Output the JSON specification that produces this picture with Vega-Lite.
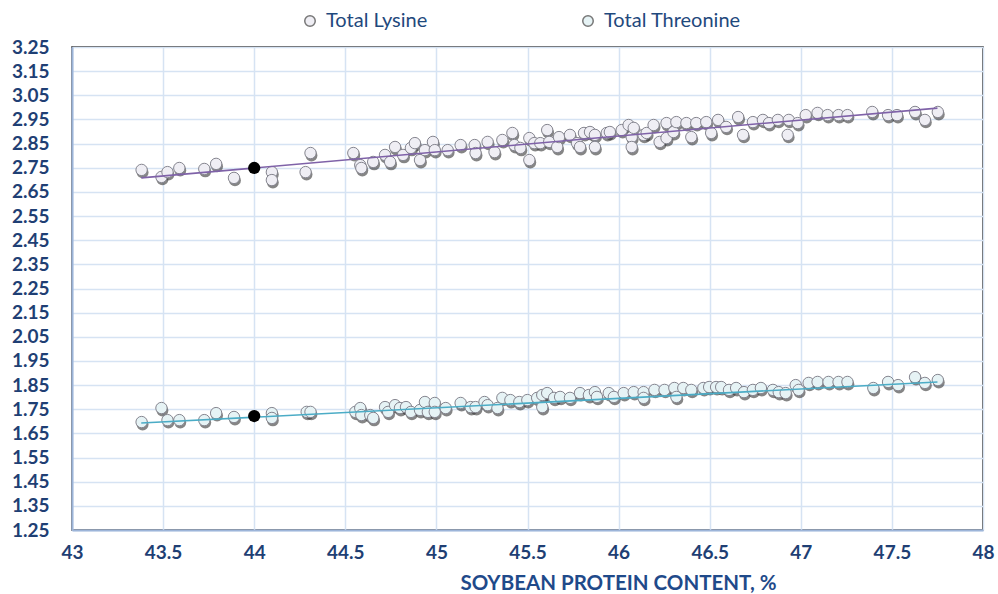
{
  "$schema": "https://vega.github.io/schema/vega-lite/v6.json",
  "width": 911,
  "height": 483,
  "autosize": {"type": "none"},
  "padding": {"left": 72, "top": 47, "right": 15, "bottom": 64},
  "background": "white",
  "config": {
    "view": {"stroke": "#222222", "strokeWidth": 1.5},
    "axis": {
      "labelFont": "Lato", "labelFontWeight": "bold", "labelFontSize": 19, "labelColor": "#1F3F74",
      "gridColor": "#D6E3F3", "gridWidth": 1.5, "domainColor": "#9DB5D9", "domainWidth": 2, "ticks": false,
      "titleFont": "Lato", "titleFontWeight": "bold", "titleFontSize": 20.5, "titleColor": "#1F4A8A"
    },
    "legend": {"labelFont": "Lato", "labelFontSize": 20, "labelColor": "#1F497D"}
  },
  "datasets": {
    "points": [
      {"series":"Total Lysine","protein":43.382,"value":2.741},
      {"series":"Total Lysine","protein":43.491,"value":2.712},
      {"series":"Total Lysine","protein":43.524,"value":2.732},
      {"series":"Total Lysine","protein":43.589,"value":2.749},
      {"series":"Total Lysine","protein":43.726,"value":2.745},
      {"series":"Total Lysine","protein":43.791,"value":2.766},
      {"series":"Total Lysine","protein":43.889,"value":2.708},
      {"series":"Total Lysine","protein":44.097,"value":2.732},
      {"series":"Total Lysine","protein":44.097,"value":2.699},
      {"series":"Total Lysine","protein":44.282,"value":2.732},
      {"series":"Total Lysine","protein":44.309,"value":2.811},
      {"series":"Total Lysine","protein":44.544,"value":2.811},
      {"series":"Total Lysine","protein":44.582,"value":2.761},
      {"series":"Total Lysine","protein":44.588,"value":2.749},
      {"series":"Total Lysine","protein":44.653,"value":2.774},
      {"series":"Total Lysine","protein":44.718,"value":2.803},
      {"series":"Total Lysine","protein":44.746,"value":2.774},
      {"series":"Total Lysine","protein":44.773,"value":2.836},
      {"series":"Total Lysine","protein":44.817,"value":2.803},
      {"series":"Total Lysine","protein":44.860,"value":2.832},
      {"series":"Total Lysine","protein":44.882,"value":2.852},
      {"series":"Total Lysine","protein":44.910,"value":2.782},
      {"series":"Total Lysine","protein":44.937,"value":2.823},
      {"series":"Total Lysine","protein":44.981,"value":2.857},
      {"series":"Total Lysine","protein":44.991,"value":2.823},
      {"series":"Total Lysine","protein":45.062,"value":2.823},
      {"series":"Total Lysine","protein":45.133,"value":2.844},
      {"series":"Total Lysine","protein":45.210,"value":2.844},
      {"series":"Total Lysine","protein":45.215,"value":2.811},
      {"series":"Total Lysine","protein":45.281,"value":2.857},
      {"series":"Total Lysine","protein":45.319,"value":2.815},
      {"series":"Total Lysine","protein":45.362,"value":2.865},
      {"series":"Total Lysine","protein":45.417,"value":2.894},
      {"series":"Total Lysine","protein":45.428,"value":2.844},
      {"series":"Total Lysine","protein":45.461,"value":2.832},
      {"series":"Total Lysine","protein":45.510,"value":2.873},
      {"series":"Total Lysine","protein":45.510,"value":2.782},
      {"series":"Total Lysine","protein":45.537,"value":2.852},
      {"series":"Total Lysine","protein":45.570,"value":2.852},
      {"series":"Total Lysine","protein":45.608,"value":2.906},
      {"series":"Total Lysine","protein":45.619,"value":2.857},
      {"series":"Total Lysine","protein":45.663,"value":2.836},
      {"series":"Total Lysine","protein":45.673,"value":2.877},
      {"series":"Total Lysine","protein":45.733,"value":2.886},
      {"series":"Total Lysine","protein":45.772,"value":2.852},
      {"series":"Total Lysine","protein":45.788,"value":2.836},
      {"series":"Total Lysine","protein":45.810,"value":2.894},
      {"series":"Total Lysine","protein":45.843,"value":2.898},
      {"series":"Total Lysine","protein":45.870,"value":2.886},
      {"series":"Total Lysine","protein":45.870,"value":2.836},
      {"series":"Total Lysine","protein":45.935,"value":2.894},
      {"series":"Total Lysine","protein":45.952,"value":2.898},
      {"series":"Total Lysine","protein":46.017,"value":2.906},
      {"series":"Total Lysine","protein":46.055,"value":2.927},
      {"series":"Total Lysine","protein":46.072,"value":2.877},
      {"series":"Total Lysine","protein":46.072,"value":2.836},
      {"series":"Total Lysine","protein":46.083,"value":2.915},
      {"series":"Total Lysine","protein":46.137,"value":2.886},
      {"series":"Total Lysine","protein":46.154,"value":2.894},
      {"series":"Total Lysine","protein":46.192,"value":2.927},
      {"series":"Total Lysine","protein":46.225,"value":2.857},
      {"series":"Total Lysine","protein":46.263,"value":2.935},
      {"series":"Total Lysine","protein":46.263,"value":2.873},
      {"series":"Total Lysine","protein":46.301,"value":2.898},
      {"series":"Total Lysine","protein":46.317,"value":2.939},
      {"series":"Total Lysine","protein":46.372,"value":2.935},
      {"series":"Total Lysine","protein":46.399,"value":2.877},
      {"series":"Total Lysine","protein":46.426,"value":2.935},
      {"series":"Total Lysine","protein":46.481,"value":2.939},
      {"series":"Total Lysine","protein":46.508,"value":2.894},
      {"series":"Total Lysine","protein":46.546,"value":2.948},
      {"series":"Total Lysine","protein":46.590,"value":2.919},
      {"series":"Total Lysine","protein":46.656,"value":2.960},
      {"series":"Total Lysine","protein":46.683,"value":2.886},
      {"series":"Total Lysine","protein":46.737,"value":2.939},
      {"series":"Total Lysine","protein":46.792,"value":2.948},
      {"series":"Total Lysine","protein":46.825,"value":2.935},
      {"series":"Total Lysine","protein":46.874,"value":2.948},
      {"series":"Total Lysine","protein":46.928,"value":2.886},
      {"series":"Total Lysine","protein":46.934,"value":2.948},
      {"series":"Total Lysine","protein":46.983,"value":2.935},
      {"series":"Total Lysine","protein":47.027,"value":2.968},
      {"series":"Total Lysine","protein":47.092,"value":2.977},
      {"series":"Total Lysine","protein":47.147,"value":2.968},
      {"series":"Total Lysine","protein":47.207,"value":2.968},
      {"series":"Total Lysine","protein":47.256,"value":2.968},
      {"series":"Total Lysine","protein":47.392,"value":2.981},
      {"series":"Total Lysine","protein":47.479,"value":2.968},
      {"series":"Total Lysine","protein":47.528,"value":2.968},
      {"series":"Total Lysine","protein":47.627,"value":2.981},
      {"series":"Total Lysine","protein":47.681,"value":2.948},
      {"series":"Total Lysine","protein":47.752,"value":2.981},
      {"series":"Total Threonine","protein":43.382,"value":1.697},
      {"series":"Total Threonine","protein":43.491,"value":1.755},
      {"series":"Total Threonine","protein":43.524,"value":1.705},
      {"series":"Total Threonine","protein":43.589,"value":1.705},
      {"series":"Total Threonine","protein":43.726,"value":1.705},
      {"series":"Total Threonine","protein":43.791,"value":1.734},
      {"series":"Total Threonine","protein":43.889,"value":1.718},
      {"series":"Total Threonine","protein":44.097,"value":1.734},
      {"series":"Total Threonine","protein":44.097,"value":1.714},
      {"series":"Total Threonine","protein":44.288,"value":1.739},
      {"series":"Total Threonine","protein":44.309,"value":1.739},
      {"series":"Total Threonine","protein":44.555,"value":1.739},
      {"series":"Total Threonine","protein":44.582,"value":1.755},
      {"series":"Total Threonine","protein":44.588,"value":1.726},
      {"series":"Total Threonine","protein":44.637,"value":1.726},
      {"series":"Total Threonine","protein":44.653,"value":1.714},
      {"series":"Total Threonine","protein":44.718,"value":1.759},
      {"series":"Total Threonine","protein":44.735,"value":1.739},
      {"series":"Total Threonine","protein":44.773,"value":1.767},
      {"series":"Total Threonine","protein":44.800,"value":1.755},
      {"series":"Total Threonine","protein":44.833,"value":1.759},
      {"series":"Total Threonine","protein":44.860,"value":1.739},
      {"series":"Total Threonine","protein":44.910,"value":1.747},
      {"series":"Total Threonine","protein":44.937,"value":1.780},
      {"series":"Total Threonine","protein":44.953,"value":1.739},
      {"series":"Total Threonine","protein":44.991,"value":1.776},
      {"series":"Total Threonine","protein":44.991,"value":1.739},
      {"series":"Total Threonine","protein":45.051,"value":1.755},
      {"series":"Total Threonine","protein":45.133,"value":1.776},
      {"series":"Total Threonine","protein":45.188,"value":1.759},
      {"series":"Total Threonine","protein":45.215,"value":1.759},
      {"series":"Total Threonine","protein":45.264,"value":1.780},
      {"series":"Total Threonine","protein":45.281,"value":1.767},
      {"series":"Total Threonine","protein":45.335,"value":1.755},
      {"series":"Total Threonine","protein":45.362,"value":1.797},
      {"series":"Total Threonine","protein":45.406,"value":1.788},
      {"series":"Total Threonine","protein":45.455,"value":1.780},
      {"series":"Total Threonine","protein":45.499,"value":1.788},
      {"series":"Total Threonine","protein":45.553,"value":1.797},
      {"series":"Total Threonine","protein":45.581,"value":1.759},
      {"series":"Total Threonine","protein":45.581,"value":1.809},
      {"series":"Total Threonine","protein":45.608,"value":1.817},
      {"series":"Total Threonine","protein":45.646,"value":1.797},
      {"series":"Total Threonine","protein":45.679,"value":1.801},
      {"series":"Total Threonine","protein":45.733,"value":1.797},
      {"series":"Total Threonine","protein":45.788,"value":1.817},
      {"series":"Total Threonine","protein":45.837,"value":1.809},
      {"series":"Total Threonine","protein":45.870,"value":1.821},
      {"series":"Total Threonine","protein":45.881,"value":1.801},
      {"series":"Total Threonine","protein":45.946,"value":1.817},
      {"series":"Total Threonine","protein":45.974,"value":1.801},
      {"series":"Total Threonine","protein":46.028,"value":1.817},
      {"series":"Total Threonine","protein":46.083,"value":1.821},
      {"series":"Total Threonine","protein":46.137,"value":1.821},
      {"series":"Total Threonine","protein":46.137,"value":1.797},
      {"series":"Total Threonine","protein":46.197,"value":1.830},
      {"series":"Total Threonine","protein":46.252,"value":1.830},
      {"series":"Total Threonine","protein":46.306,"value":1.838},
      {"series":"Total Threonine","protein":46.317,"value":1.801},
      {"series":"Total Threonine","protein":46.355,"value":1.838},
      {"series":"Total Threonine","protein":46.399,"value":1.830},
      {"series":"Total Threonine","protein":46.465,"value":1.838},
      {"series":"Total Threonine","protein":46.497,"value":1.842},
      {"series":"Total Threonine","protein":46.535,"value":1.842},
      {"series":"Total Threonine","protein":46.563,"value":1.842},
      {"series":"Total Threonine","protein":46.606,"value":1.830},
      {"series":"Total Threonine","protein":46.645,"value":1.838},
      {"series":"Total Threonine","protein":46.688,"value":1.821},
      {"series":"Total Threonine","protein":46.737,"value":1.830},
      {"series":"Total Threonine","protein":46.781,"value":1.838},
      {"series":"Total Threonine","protein":46.847,"value":1.830},
      {"series":"Total Threonine","protein":46.879,"value":1.821},
      {"series":"Total Threonine","protein":46.917,"value":1.817},
      {"series":"Total Threonine","protein":46.972,"value":1.850},
      {"series":"Total Threonine","protein":46.988,"value":1.830},
      {"series":"Total Threonine","protein":47.043,"value":1.859},
      {"series":"Total Threonine","protein":47.092,"value":1.863},
      {"series":"Total Threonine","protein":47.152,"value":1.863},
      {"series":"Total Threonine","protein":47.207,"value":1.863},
      {"series":"Total Threonine","protein":47.256,"value":1.863},
      {"series":"Total Threonine","protein":47.398,"value":1.838},
      {"series":"Total Threonine","protein":47.479,"value":1.863},
      {"series":"Total Threonine","protein":47.534,"value":1.850},
      {"series":"Total Threonine","protein":47.627,"value":1.883},
      {"series":"Total Threonine","protein":47.681,"value":1.859},
      {"series":"Total Threonine","protein":47.752,"value":1.871}
    ],
    "trend": [
      {"series":"Total Lysine","protein":43.38,"value":2.708},
      {"series":"Total Lysine","protein":47.75,"value":2.997},
      {"series":"Total Threonine","protein":43.38,"value":1.693},
      {"series":"Total Threonine","protein":47.75,"value":1.863}
    ],
    "highlight": [
      {"protein":44.0,"value":2.749},
      {"protein":44.0,"value":1.722}
    ]
  },
  "encoding": {
    "x": {"field": "protein", "type": "quantitative",
      "scale": {"domain": [43, 48], "nice": false, "zero": false},
      "axis": {"values": [43,43.5,44,44.5,45,45.5,46,46.5,47,47.5,48], "format": "~g", "labelPadding": 13, "labelFlush": false,
        "title": "SOYBEAN PROTEIN CONTENT, %", "titleX": 546, "titleY": 59, "titleBaseline": "alphabetic"}},
    "y": {"field": "value", "type": "quantitative",
      "scale": {"domain": [1.25, 3.25], "nice": false, "zero": false},
      "axis": {"values": [1.25,1.35,1.45,1.55,1.65,1.75,1.85,1.95,2.05,2.15,2.25,2.35,2.45,2.55,2.65,2.75,2.85,2.95,3.05,3.15,3.25],
        "format": ".2f", "labelPadding": 23, "title": null}}
  },
  "layer": [
    {
      "data": {"name": "points"},
      "mark": {"type": "circle", "size": 140, "fill": "#333333", "opacity": 0.6, "xOffset": 1, "yOffset": 2.5}
    },
    {
      "data": {"name": "points"},
      "mark": {"type": "circle", "size": 130, "opacity": 1, "stroke": "#85858f", "strokeWidth": 1},
      "encoding": {
        "color": {"field": "series", "type": "nominal",
          "scale": {"domain": ["Total Lysine", "Total Threonine"], "range": ["#efeef4", "#e6f3f5"]},
          "legend": {"title": null, "orient": "none", "direction": "horizontal", "legendX": 228, "legendY": -36,
            "columnPadding": 150, "symbolType": "circle", "symbolSize": 110, "symbolStrokeColor": "#777777",
            "symbolStrokeWidth": 1.5, "symbolOpacity": 1, "labelOffset": 6}}
      }
    },
    {
      "data": {"name": "trend"},
      "transform": [{"filter": "datum.series === 'Total Lysine'"}],
      "mark": {"type": "line", "color": "#7F62A8", "strokeWidth": 1.6}
    },
    {
      "data": {"name": "trend"},
      "transform": [{"filter": "datum.series === 'Total Threonine'"}],
      "mark": {"type": "line", "color": "#4BACC6", "strokeWidth": 1.6}
    },
    {
      "data": {"name": "highlight"},
      "mark": {"type": "circle", "size": 150, "fill": "#000000", "opacity": 1}
    }
  ]
}
